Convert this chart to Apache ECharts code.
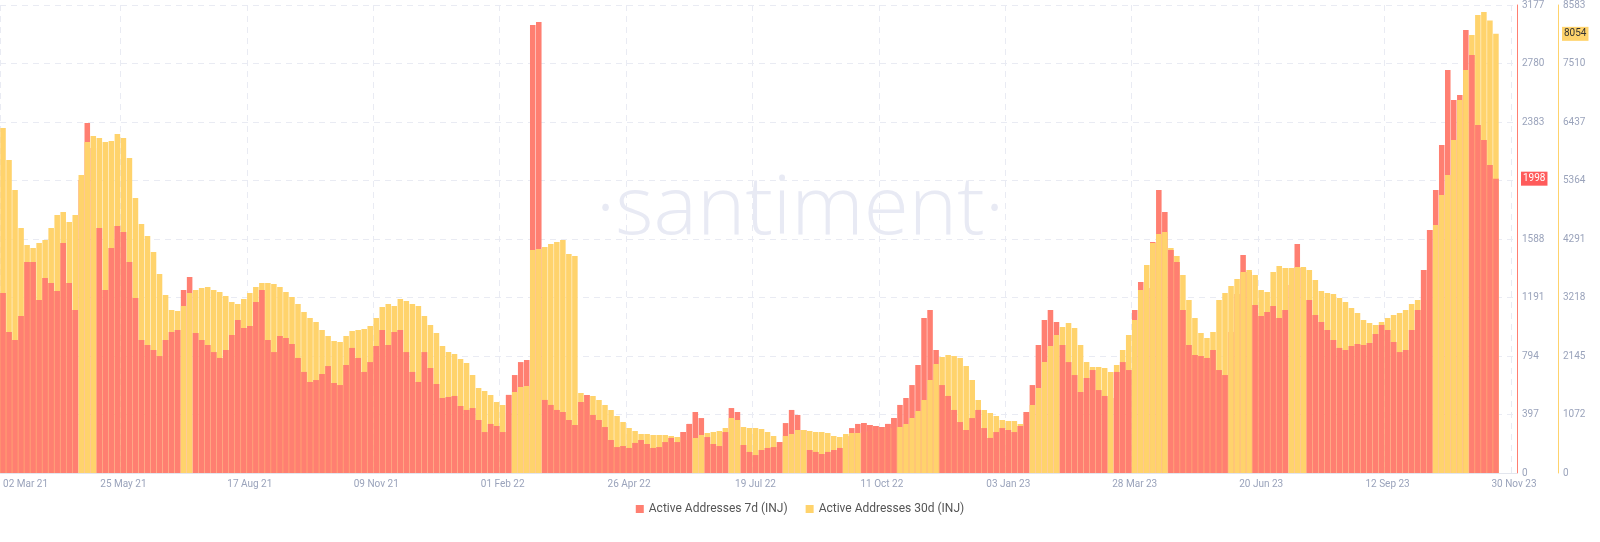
<!DOCTYPE html>
<html><head><meta charset="utf-8">
<script src="https://cdn.jsdelivr.net/npm/echarts@6/dist/echarts.min.js"></script>
<style>html,body{margin:0;padding:0;background:#fff}#c{width:1600px;height:542px}</style>
</head><body><div id="c"></div>
<script>
// 4-day bins, Mar 2021 .. Nov 2023
const active30d = [6327,5740,5190,4493,4182,4127,4218,4273,4493,4732,4787,4603,4732,5465,6070,6181,6144,6070,6089,6217,
6144,5777,5044,4567,4347,4053,3650,3265,2989,2971,3063,3301,3356,3393,3411,3356,3320,3246,3136,3100,
3191,3301,3411,3485,3485,3466,3411,3320,3228,3100,2953,2843,2769,2623,2513,2421,2403,2513,2604,2623,
2641,2696,2843,3044,3100,3063,3191,3155,3100,3063,2879,2714,2568,2329,2219,2182,2091,2017,1797,1559,
1504,1431,1302,1247,1100,1486,1577,1596,4090,4108,4145,4200,4237,4273,4016,3980,1467,1394,1412,1339,
1247,1155,1045,935,825,770,715,715,697,697,697,679,660,642,605,642,697,734,752,770,
825,1009,972,844,825,825,807,752,679,569,679,715,789,789,770,752,752,734,679,660,
715,734,734,752,770,789,825,825,825,844,899,1009,1137,1339,1706,1999,2127,2164,2145,2109,
1962,1706,1339,1155,1100,1045,972,954,954,899,972,1247,1559,2036,2329,2531,2678,2751,2659,2348,
2036,1944,1944,1926,1852,1981,2256,2531,2806,3356,3815,4218,4383,4420,4127,3980,3631,3173,2843,2568,
2476,2586,3173,3301,3430,3558,3687,3723,3631,3356,3320,3687,3796,3760,3760,3778,3778,3723,3540,3338,
3301,3283,3210,3136,3026,2934,2806,2751,2714,2769,2843,2898,2934,2989,3100,3173,3173,3906,4548,5098,
5465,6107,6841,7391,8033,8400,8455,8300,8054];
const active7d = [1222,957,903,1066,1432,1432,1174,1324,1290,1235,1561,1290,1107,1989,2376,2206,1663,1242,1527,1677,
1636,1432,1188,903,869,835,794,903,957,971,1242,1330,950,903,869,821,781,835,937,1039,
984,998,1161,1242,903,821,930,916,876,781,686,618,631,672,726,611,597,733,849,781,
686,753,862,971,869,957,971,821,686,618,821,713,604,509,516,523,455,428,441,360,
278,333,319,278,530,665,753,767,3041,3061,496,462,428,414,360,326,482,529,394,360,
312,224,176,183,170,204,224,197,170,176,210,238,210,278,333,414,373,244,197,183,
278,441,414,190,143,122,156,170,176,210,339,428,394,292,156,143,129,143,156,170,
251,305,333,339,326,319,312,333,373,462,509,597,733,1052,1106,835,597,523,428,346,
292,373,428,305,238,278,305,292,278,319,414,597,869,1039,1106,1025,869,753,665,550,
645,699,563,523,509,686,753,699,1106,1297,1256,1568,1921,1772,1514,1432,1106,869,801,794,
781,835,699,665,957,1215,1480,1364,1140,1066,1093,1134,1052,1106,1276,1554,1392,1174,1073,1025,
971,903,849,835,862,876,869,882,944,1005,971,889,821,835,971,1106,1378,1650,1921,2226,
2736,2532,2566,3007,2838,2362,2260,2091,1998];
// bins where the 30d bar is drawn in front of the 7d bar
const yellowFront = [[13,15],[30,31],[85,89],[115,116],[121,122],[130,133],[140,142],[149,155],[171,175],[184,184],[188,190],[191,193],[204,207],[214,216],[238,243]];
const binCount = 252;
const tickIdx = [0,20,41,62,83,104,125,146,167,188,209,230,251];
const tickLabels = ['02 Mar 21','25 May 21','17 Aug 21','09 Nov 21','01 Feb 22','26 Apr 22','19 Jul 22','11 Oct 22','03 Jan 23','28 Mar 23','20 Jun 23','12 Sep 23','30 Nov 23'];
const redTicks = ['0','397','794','1191','1588','','2383','2780','3177'];
const yellowTicks = ['0','1072','2145','3218','4291','5364','6437','7510','8583'];
const n7 = 'Active Addresses 7d (INJ)', n30 = 'Active Addresses 30d (INJ)';
const RED = '#ff7f71', YEL = '#ffd36c';

const cats = Array.from({length: binCount}, (_, i) => String(i));
const redFront = active7d.map((v, i) => yellowFront.some(r => i >= r[0] && i <= r[1]) ? null : v);
const showTick = (i) => tickIdx.indexOf(i) >= 0;

const chart = echarts.init(document.getElementById('c'));
const gridLine = {show: true, lineStyle: {color: '#e9ebf3', type: [6, 5], width: 1}};
const hiddenLine = {color: 'rgba(0,0,0,0)', width: 0};
chart.setOption({
  animation: false,
  graphic: [{type: 'text', left: 'center', top: 170, z: 0, silent: true,
    style: {text: '·santiment·', font: '300 82px "Open Sans", sans-serif', fill: '#e8eaf4'}}],
  legend: {bottom: 22, left: 'center', itemWidth: 8, itemHeight: 8, itemGap: 18, icon: 'rect',
    textStyle: {color: '#555', fontSize: 12, fontFamily: 'Roboto, sans-serif'},
    data: [{name: n7, itemStyle: {color: RED}}, {name: n30, itemStyle: {color: YEL}}]},
  grid: {left: 0, right: 83, top: 5, bottom: 69},
  xAxis: {type: 'category', data: cats, boundaryGap: true,
    axisLine: {lineStyle: {color: '#e3e6ee'}}, axisTick: {show: false},
    axisLabel: {interval: (i) => showTick(i), formatter: (v, i) => tickLabels[tickIdx.indexOf(+v)] || '',
      color: '#9aa3bb', fontSize: 10, fontFamily: 'Roboto, sans-serif', margin: 6, alignMinLabel: 'left'},
    splitLine: {show: true, interval: (i) => showTick(i), lineStyle: {color: '#e9ebf3', type: [6, 5]}}},
  yAxis: [
    {type: 'value', position: 'right', min: 0, max: 3177, interval: 3177 / 8,
      axisLine: {show: true, lineStyle: {color: '#ff7f71'}}, axisTick: {show: false},
      axisLabel: {formatter: (v) => redTicks[Math.round(v / (3177 / 8))], color: '#9aa3bb', fontSize: 10, fontFamily: 'Roboto, sans-serif', margin: 5},
      splitLine: gridLine},
    {type: 'value', position: 'right', offset: 41, min: 0, max: 8583, interval: 8583 / 8,
      axisLine: {show: true, lineStyle: {color: '#ffd36c'}}, axisTick: {show: false},
      axisLabel: {formatter: (v) => yellowTicks[Math.round(v / (8583 / 8))], color: '#9aa3bb', fontSize: 10, fontFamily: 'Roboto, sans-serif', margin: 5},
      splitLine: {show: false}}
  ],
  series: [
    {name: n7, type: 'bar', yAxisIndex: 0, data: active7d, barGap: '-100%', barCategoryGap: '8%',
      itemStyle: {color: RED}, z: 1},
    {name: n30, type: 'bar', yAxisIndex: 1, data: active30d, barGap: '-100%', barCategoryGap: '8%',
      itemStyle: {color: YEL}, z: 2,
      markLine: {symbol: ['none', 'none'], silent: true, lineStyle: hiddenLine,
        label: {show: true, position: 'end', distance: 45, formatter: '{c}', color: '#333', backgroundColor: YEL, padding: [2, 2], fontSize: 10, fontFamily: 'Roboto, sans-serif'},
        data: [{yAxis: active30d[active30d.length - 1]}]}},
    {name: n7, type: 'bar', yAxisIndex: 0, data: redFront, barGap: '-100%', barCategoryGap: '8%',
      itemStyle: {color: RED}, z: 3,
      markLine: {symbol: ['none', 'none'], silent: true, lineStyle: hiddenLine,
        label: {show: true, position: 'end', distance: 4, formatter: '{c}', color: '#fff', backgroundColor: '#ff5b5b', padding: [2, 2], fontSize: 10, fontFamily: 'Roboto, sans-serif'},
        data: [{yAxis: active7d[active7d.length - 1]}]}}
  ]
});
</script></body></html>
